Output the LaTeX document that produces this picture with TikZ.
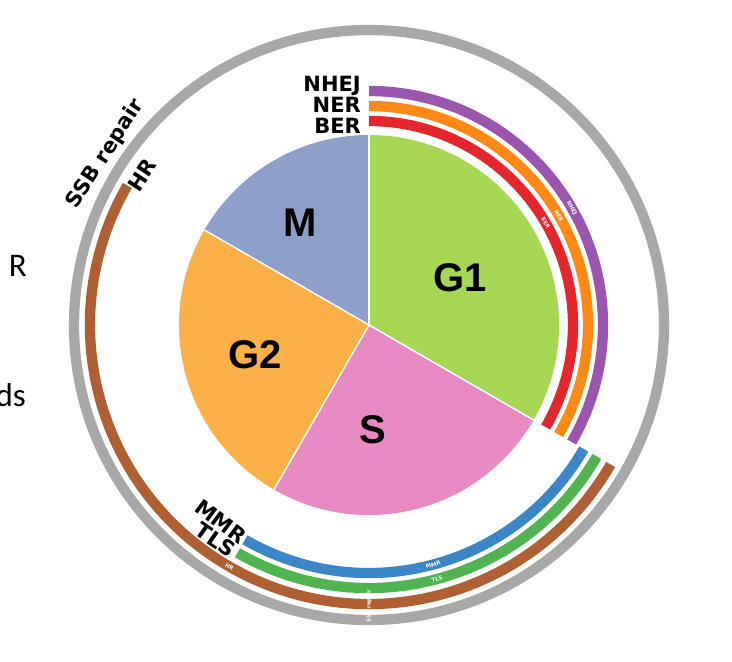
\documentclass[tikz,border=0pt]{standalone}
\usepackage{fontspec}
\newfontfamily\pief{Liberation Sans}
\newfontfamily\labf{DejaVu Sans}
\newfontfamily\slidef{Carlito}
\definecolor{cM}{RGB}{141,160,203}
\definecolor{cGone}{RGB}{166,216,84}
\definecolor{cGtwo}{RGB}{252,176,72}
\definecolor{cS}{RGB}{231,138,195}
\definecolor{cBER}{RGB}{228,38,45}
\definecolor{cNER}{RGB}{255,137,20}
\definecolor{cNHEJ}{RGB}{155,85,175}
\definecolor{cMMR}{RGB}{58,134,200}
\definecolor{cTLS}{RGB}{80,180,80}
\definecolor{cHR}{RGB}{175,95,50}
\definecolor{cSSB}{RGB}{168,168,168}
\tikzset{
  ring/.style={line width=10.3pt},
  phase/.style={font=\pief\bfseries\fontsize{40}{40}\selectfont, inner sep=0pt},
  pathlab/.style={font=\labf\bfseries\fontsize{21}{21}\selectfont, inner sep=0pt},
  tinylab/.style={font=\labf\bfseries\fontsize{5.5}{5.5}\selectfont, text=white, inner sep=0pt},
  slidetext/.style={font=\slidef\fontsize{33}{33}\selectfont, inner sep=0pt}
}
\begin{document}
\begin{tikzpicture}[x=1pt,y=1pt]
\useasboundingbox (0,0) rectangle (732,662);
\fill[white] (0,0) rectangle (732,662);
\coordinate (O) at (369,337);
\begin{scope}[shift={(O)}]
  % pie slices
  \fill[cGone] (0,0) -- (90:190) arc[start angle=90,end angle=-30,radius=190] -- cycle;
  \fill[cS] (0,0) -- (-30:190) arc[start angle=-30,end angle=-120,radius=190] -- cycle;
  \fill[cGtwo] (0,0) -- (-120:190) arc[start angle=-120,end angle=-210,radius=190] -- cycle;
  \fill[cM] (0,0) -- (150:190) arc[start angle=150,end angle=90,radius=190] -- cycle;
  \foreach \a in {90,-30,-120,150} \draw[white,line width=1.5] (0,0) -- (\a:190);
  % rings
  \draw[ring,cBER] (90:204) arc[start angle=90,end angle=-30,radius=204];
  \draw[ring,cNER] (90:219) arc[start angle=90,end angle=-30,radius=219];
  \draw[ring,cNHEJ] (90:234) arc[start angle=90,end angle=-30,radius=234];
  \draw[ring,cMMR] (-30:248) arc[start angle=-30,end angle=-120,radius=248];
  \draw[ring,cTLS] (-30:263) arc[start angle=-30,end angle=-120,radius=263];
  \draw[ring,cHR] (-30:279) arc[start angle=-30,end angle=-210,radius=279];
  \draw[ring,cSSB] (0,0) circle[radius=295];
  % tiny labels inside rings
  \node[tinylab,rotate=-60] (tNHEJ) at (30:234) {NHEJ};
  \node[tinylab,rotate=-60] (tNER) at (30:219) {NER};
  \node[tinylab,rotate=-60] (tBER) at (30:204) {BER};
  \node[tinylab,rotate=15] (tMMR) at (-75:248) {MMR};
  \node[tinylab,rotate=15] (tTLS) at (-75:263) {TLS};
  \node[tinylab,rotate=-30] (tHR) at (-120:279) {HR};
  \node[tinylab,rotate=90] (tSSB) at (-90:281) {SSB repair};
  % pathway labels
  \node[pathlab,rotate=57] (lSSB) at (147:314) {SSB repair};
  \node[pathlab,rotate=56.5] (lHR) at (146.5:272) {HR};
  \node[pathlab,rotate=-37] (lMMR) at (-127:246) {MMR};
  \node[pathlab,rotate=-35] (lTLS) at (-125.5:264) {TLS};
\end{scope}
\node[pathlab,anchor=base east] (lNHEJ) at (361,570) {NHEJ};
\node[pathlab,anchor=base east] (lNER) at (361,549) {NER};
\node[pathlab,anchor=base east] (lBER) at (361,528) {BER};
% phase labels
\node[phase] (M) at (300,439) {M};
\node[phase] (G1) at (460,384) {G1};
\node[phase] (G2) at (255,307) {G2};
\node[phase] (S) at (373,232) {S};
% cut-off slide text at left
\node[slidetext,anchor=base east] (sR) at (27,385) {R};
\node[slidetext,anchor=base east] (sds) at (26,255) {ds};
\end{tikzpicture}
\end{document}
